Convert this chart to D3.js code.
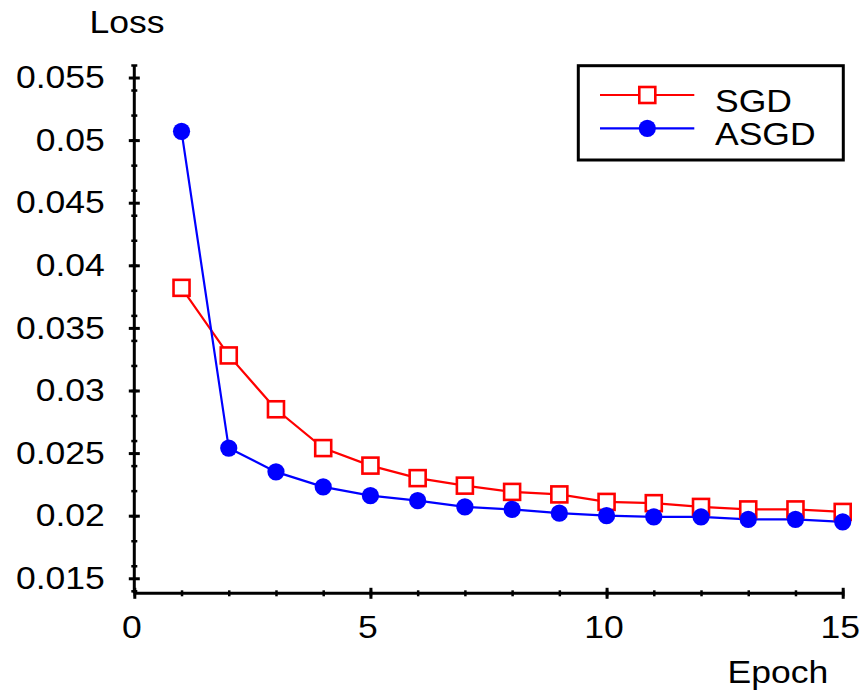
<!DOCTYPE html>
<html>
<head>
<meta charset="utf-8">
<script src="https://cdn.jsdelivr.net/npm/d3@7"></script>
<style>
  html, body { margin: 0; padding: 0; background: #fff; }
  svg { display: block; font-family: "Liberation Sans", Arial, Helvetica, sans-serif; }
</style>
</head>
<body>
<svg id="chart" width="861" height="690"></svg>
<script>
// Training loss per epoch
const epochs   = [1, 2, 3, 4, 5, 6, 7, 8, 9, 10, 11, 12, 13, 14, 15];
const sgdLoss  = [0.0382, 0.0328, 0.0285, 0.0254, 0.0240, 0.0230, 0.0224, 0.0219, 0.0217, 0.0211, 0.0210, 0.0207, 0.0205, 0.0205, 0.0203];
const asgdLoss = [0.0507, 0.0254, 0.0235, 0.0223, 0.0216, 0.0212, 0.0207, 0.0205, 0.0202, 0.0200, 0.0199, 0.0199, 0.0197, 0.0197, 0.0195];

const xMajorTicks = [0, 5, 10, 15];
const xMinorTicks = d3.range(0, 16, 1);
const yMajorTicks = [0.015, 0.02, 0.025, 0.03, 0.035, 0.04, 0.045, 0.05, 0.055];
const yMinorTicks = d3.range(14, 57, 2).map(v => v / 1000);
const yTickLabels = ["0.015", "0.02", "0.025", "0.03", "0.035", "0.04", "0.045", "0.05", "0.055"];

const seriesNames = ["SGD", "ASGD"];

const svg = d3.select("#chart");

const x = d3.scaleLinear().domain([0, 15]).range([134.3, 842.7]);
const y = d3.scaleLinear().domain([0.0138, 0.056]).range([593.3, 65]);

const fontSize = 32;
const stretch = 1.11;   // text is set slightly wide

// Y axis: minor ticks, then major ticks with labels
const yMinor = svg.append("g").attr("transform", `translate(${x(0)},0)`)
  .call(d3.axisLeft(y).tickValues(yMinorTicks).tickSize(0).tickFormat(""));
yMinor.select(".domain").remove();
yMinor.selectAll(".tick line").attr("x1", -3).attr("x2", 3).attr("stroke", "#000").attr("stroke-width", 2.5);

const yAxis = svg.append("g").attr("transform", `translate(${x(0)},0)`)
  .call(d3.axisLeft(y).tickValues(yMajorTicks).tickSize(0)
    .tickFormat((d, i) => yTickLabels[i]));
yAxis.select(".domain").attr("stroke", "#000").attr("stroke-width", 3)
  .attr("d", `M0,${y(0.0138)}V${y(0.056)}`);
yAxis.selectAll(".tick line").attr("x1", -5.5).attr("x2", 5.5).attr("stroke", "#000").attr("stroke-width", 3);
yAxis.selectAll(".tick text")
  .attr("x", -29.5 / stretch)
  .attr("transform", `scale(${stretch},1)`)
  .attr("font-size", fontSize).attr("fill", "#000")
  .attr("font-family", "Liberation Sans, Arial, sans-serif");

// X axis
const xMinor = svg.append("g").attr("transform", `translate(0,${y(0.0138)})`)
  .call(d3.axisBottom(x).tickValues(xMinorTicks).tickSize(0).tickFormat(""));
xMinor.select(".domain").remove();
xMinor.selectAll(".tick line").attr("y1", -3).attr("y2", 3).attr("stroke", "#000").attr("stroke-width", 2.5);

const xAxis = svg.append("g").attr("transform", `translate(0,${y(0.0138)})`)
  .call(d3.axisBottom(x).tickValues(xMajorTicks).tickSize(0).tickPadding(21.5).tickFormat(d3.format("d")));
xAxis.select(".domain").attr("stroke", "#000").attr("stroke-width", 3)
  .attr("d", `M${x(0)},0H${x(15)}`);
xAxis.selectAll(".tick line").attr("y1", -5.5).attr("y2", 5.5).attr("stroke", "#000").attr("stroke-width", 3);
xAxis.selectAll(".tick text")
  .attr("x", -3 / stretch)
  .attr("transform", `scale(${stretch},1)`)
  .attr("font-size", fontSize).attr("fill", "#000")
  .attr("font-family", "Liberation Sans, Arial, sans-serif");

// Draws a left-anchored, slightly widened label
function label(tx, ty, str) {
  return svg.append("text")
    .attr("transform", `translate(${tx},${ty}) scale(${stretch},1)`)
    .attr("font-size", fontSize).attr("fill", "#000").text(str);
}

// Axis titles
label(89.5, 33.3, "Loss");
label(727.5, 683.3, "Epoch");

// Series lines
const line = d3.line().x((d, i) => x(epochs[i])).y(d => y(d));

svg.append("path").datum(sgdLoss).attr("d", line)
  .attr("fill", "none").attr("stroke", "#ff0000").attr("stroke-width", 2.2);
svg.append("path").datum(asgdLoss).attr("d", line)
  .attr("fill", "none").attr("stroke", "#0000ff").attr("stroke-width", 2.2);

// Markers
const sq = 16;
svg.append("g").selectAll("rect").data(sgdLoss).join("rect")
  .attr("x", (d, i) => x(epochs[i]) - sq / 2)
  .attr("y", d => y(d) - sq / 2)
  .attr("width", sq).attr("height", sq)
  .attr("fill", "#fff").attr("stroke", "#ff0000").attr("stroke-width", 2.6);

svg.append("g").selectAll("circle").data(asgdLoss).join("circle")
  .attr("cx", (d, i) => x(epochs[i]))
  .attr("cy", d => y(d))
  .attr("r", 8.6).attr("fill", "#0000ff");

// Legend
const legend = svg.append("g");
legend.append("rect").attr("x", 578.3).attr("y", 65.7).attr("width", 265).attr("height", 94.3)
  .attr("fill", "#fff").attr("stroke", "#000").attr("stroke-width", 3);

const legendRows = [
  { name: seriesNames[0], color: "#ff0000", yPos: 95, marker: "square" },
  { name: seriesNames[1], color: "#0000ff", yPos: 128.3, marker: "circle" }
];
legendRows.forEach(r => {
  legend.append("line").attr("x1", 600).attr("x2", 694.3).attr("y1", r.yPos).attr("y2", r.yPos)
    .attr("stroke", r.color).attr("stroke-width", 2.2);
  if (r.marker === "square") {
    legend.append("rect").attr("x", 647.3 - sq / 2).attr("y", r.yPos - sq / 2)
      .attr("width", sq).attr("height", sq)
      .attr("fill", "#fff").attr("stroke", r.color).attr("stroke-width", 2.6);
  } else {
    legend.append("circle").attr("cx", 647.3).attr("cy", r.yPos).attr("r", 8.6).attr("fill", r.color);
  }
  legend.append("text")
    .attr("transform", `translate(715,${r.yPos + 16.6}) scale(${stretch},1)`)
    .attr("font-size", fontSize).attr("fill", "#000").text(r.name);
});
</script>
</body>
</html>
